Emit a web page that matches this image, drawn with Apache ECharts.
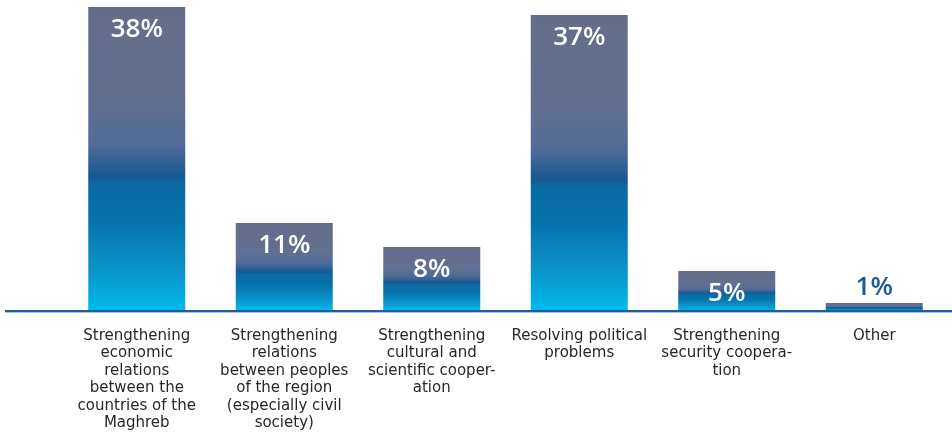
<!DOCTYPE html>
<html>
<head>
<meta charset="utf-8">
<style>
  html, body { margin: 0; padding: 0; background: #ffffff; }
  #chart { width: 952px; height: 435px; }
</style>
<script src="https://cdn.jsdelivr.net/npm/echarts@6/dist/echarts.min.js"></script>
</head>
<body>
<div id="chart"></div>
<script>
// Survey answers: priorities for Maghreb cooperation (share of respondents, %)
const categories = [
  'Strengthening\neconomic\nrelations\nbetween the\ncountries of the\nMaghreb',
  'Strengthening\nrelations\nbetween peoples\nof the region\n(especially civil\nsociety)',
  'Strengthening\ncultural and\nscientific cooper-\nation',
  'Resolving political\nproblems',
  'Strengthening\nsecurity coopera-\ntion',
  'Other'
];
const shares = [38, 11, 8, 37, 5, 1];

const chart = echarts.init(document.getElementById('chart'), null, { renderer: 'canvas' });

const barFill = new echarts.graphic.LinearGradient(0, 0, 0, 1, [
  { offset: 0.00, color: '#666d8b' },
  { offset: 0.32, color: '#636f91' },
  { offset: 0.45, color: '#516c98' },
  { offset: 0.555, color: '#185891' },
  { offset: 0.58, color: '#0c6aa3' },
  { offset: 0.70, color: '#0573ab' },
  { offset: 0.85, color: '#0b90c6' },
  { offset: 1.00, color: '#00bbee' }
]);

chart.setOption({
  animation: false,
  grid: { left: 63, right: 4, top: 7, bottom: 124 },
  xAxis: {
    type: 'category',
    data: categories,
    axisLine: { show: false },
    axisTick: { show: false },
    axisLabel: {
      interval: 0,
      margin: 16,
      color: '#26262e',
      fontFamily: 'DejaVu Sans',
      fontSize: 15,
      lineHeight: 17.5,
      align: 'center'
    }
  },
  yAxis: {
    type: 'value',
    min: 0,
    max: 38,
    show: false,
    splitLine: { show: false }
  },
  series: [{
    type: 'bar',
    data: shares.map(function (v) {
      const small = v < 3;
      return {
        value: v,
        label: small ? {
          position: 'top',
          distance: 2,
          color: '#1b5a9a'
        } : {
          position: 'insideTop',
          distance: 10,
          color: '#ffffff'
        }
      };
    }),
    barWidth: 97,
    itemStyle: { color: barFill },
    label: {
      show: true,
      formatter: '{c}%',
      fontFamily: 'Open Sans',
      fontWeight: 600,
      fontSize: 26
    }
  }]
});

// Baseline running across the full width at the zero level
const baseY = Math.round(chart.convertToPixel({ yAxisIndex: 0 }, 0));
chart.setOption({
  graphic: [
    { type: 'line', shape: { x1: 5, y1: baseY, x2: 952, y2: baseY },
      style: { stroke: '#1f5d9c', lineWidth: 2 }, z: 10 },
    { type: 'line', shape: { x1: 5, y1: baseY + 1.5, x2: 952, y2: baseY + 1.5 },
      style: { stroke: '#a9c2df', lineWidth: 1 }, z: 10 }
  ]
});
</script>
</body>
</html>
